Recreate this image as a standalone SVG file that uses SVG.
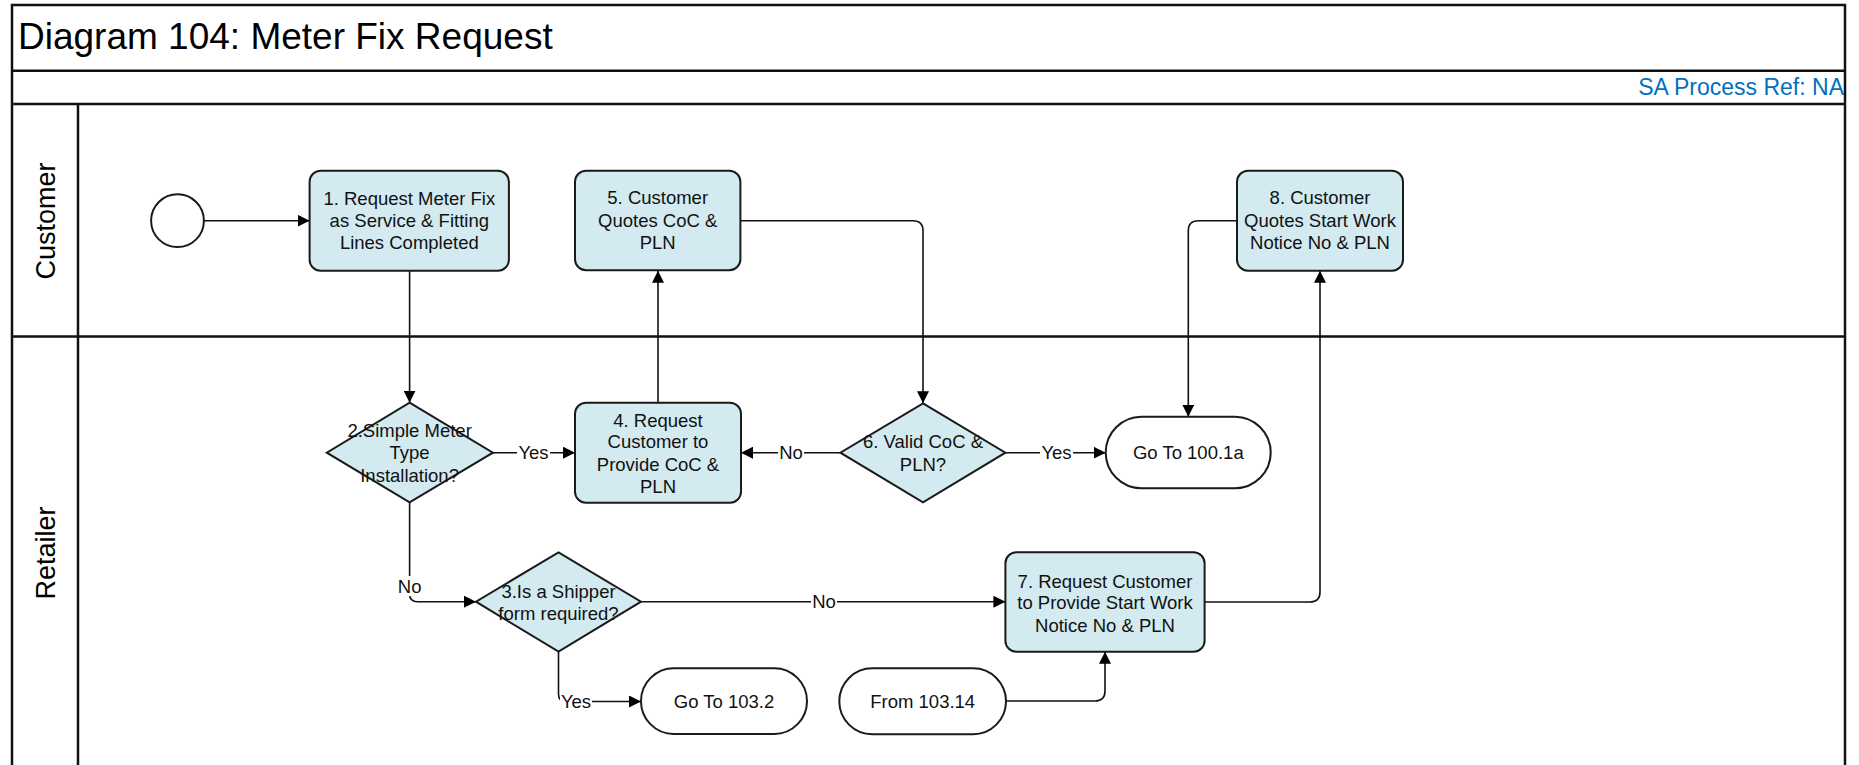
<svg xmlns="http://www.w3.org/2000/svg" width="1859" height="765" viewBox="0 0 1859 765">
<style>
  .frame{fill:none;stroke:#111;stroke-width:2.5}
  .lane{stroke:#111;stroke-width:2.5;fill:none}
  .box{fill:#D3EAF0;stroke:#1a1a1a;stroke-width:2}
  .term{fill:#fff;stroke:#1a1a1a;stroke-width:2}
  .conn{fill:none;stroke:#111;stroke-width:1.6;marker-end:url(#arr)}
  .t{font-family:"Liberation Sans",Arial,sans-serif;font-size:18.5px;fill:#111;text-anchor:middle}
  .lbl{font-family:"Liberation Sans",Arial,sans-serif;font-size:18.5px;fill:#111;text-anchor:middle}
  .lbg{fill:#fff}
  .title{font-family:"Liberation Sans",Arial,sans-serif;font-size:37px;fill:#000}
  .ref{font-family:"Liberation Sans",Arial,sans-serif;font-size:23px;fill:#0070C0;text-anchor:end}
  .lanet{font-family:"Liberation Sans",Arial,sans-serif;font-size:27px;fill:#000;text-anchor:middle}
</style>
<defs>
  <marker id="arr" viewBox="0 0 12 12" refX="12" refY="6" markerWidth="12" markerHeight="12" markerUnits="userSpaceOnUse" orient="auto">
    <path d="M0,0 L12,6 L0,12 z" fill="#000"/>
  </marker>
</defs>
<rect x="0" y="0" width="1859" height="765" fill="#fff"/>

<g id="frame">
  <rect class="frame" x="12" y="5" width="1833" height="780"/>
  <line class="lane" x1="12" y1="70.7" x2="1845" y2="70.7"/>
  <line class="lane" x1="12" y1="104" x2="1845" y2="104"/>
  <line class="lane" x1="78" y1="104" x2="78" y2="770"/>
  <line class="lane" x1="12" y1="336.5" x2="1845" y2="336.5"/>
  <text class="title" x="18" y="49">Diagram 104: Meter Fix Request</text>
  <text class="ref" x="1844" y="95">SA Process Ref: NA</text>
  <text class="lanet" transform="translate(55,221) rotate(-90)">Customer</text>
  <text class="lanet" transform="translate(55,553) rotate(-90)">Retailer</text>
</g>

<g id="connectors">
  <path class="conn" d="M203.8,220.7 H309.6"/>
  <path class="conn" d="M409.6,270.7 V402.7"/>
  <path class="conn" d="M492.9,452.7 H575"/>
  <path class="conn" d="M658,402.7 V270.7"/>
  <path class="conn" d="M740.4,220.7 H913 Q923,220.7 923,230.7 V403.3"/>
  <path class="conn" d="M840.4,452.7 H741"/>
  <path class="conn" d="M1005.4,452.7 H1105.7"/>
  <path class="conn" d="M1237,220.7 H1198.3 Q1188.3,220.7 1188.3,230.7 V416.7"/>
  <path class="conn" d="M409.6,502.3 V594 Q409.6,601.7 417.3,601.7 H476"/>
  <path class="conn" d="M641,601.7 H1005.4"/>
  <path class="conn" d="M558.5,651.7 V694 Q558.5,701.5 566,701.5 H641"/>
  <path class="conn" d="M1006,701 H1095 Q1105,701 1105,691 V651.7"/>
  <path class="conn" d="M1204.6,602 H1310 Q1320,602 1320,592 V270.7"/>
  <rect class="lbg" x="517" y="442" width="33" height="22"/>
  <text class="lbl" x="533.5" y="459.3">Yes</text>
  <rect class="lbg" x="778" y="442" width="26" height="22"/>
  <text class="lbl" x="791" y="459.3">No</text>
  <rect class="lbg" x="1040" y="442" width="33" height="22"/>
  <text class="lbl" x="1056.5" y="459.3">Yes</text>
  <rect class="lbg" x="397" y="576" width="26" height="20"/>
  <text class="lbl" x="409.6" y="592.6">No</text>
  <rect class="lbg" x="811" y="591" width="26" height="22"/>
  <text class="lbl" x="824" y="608.3">No</text>
  <rect class="lbg" x="560" y="691" width="32" height="22"/>
  <text class="lbl" x="576" y="708.3">Yes</text>
</g>

<g id="start">
  <circle cx="177.5" cy="220.7" r="26.4" fill="#fff" stroke="#1a1a1a" stroke-width="2"/>
</g>

<g id="n1">
  <rect class="box" x="309.6" y="170.7" width="199.3" height="100" rx="11"/>
  <text class="t"><tspan x="409.3" y="204.9">1. Request Meter Fix</tspan><tspan x="409.3" y="227.3">as Service &amp; Fitting</tspan><tspan x="409.3" y="249.3">Lines Completed</tspan></text>
</g>

<g id="n2">
  <polygon class="box" points="409.6,402.7 492.9,452.7 409.6,502.3 326.8,452.7"/>
  <text class="t"><tspan x="409.6" y="437.3">2.Simple Meter</tspan><tspan x="409.6" y="459.3">Type</tspan><tspan x="409.6" y="482.3">Installation?</tspan></text>
</g>

<g id="n3">
  <polygon class="box" points="558.5,552.3 641,601.7 558.5,651.7 476,601.7"/>
  <text class="t"><tspan x="558.5" y="598.3">3.Is a Shipper</tspan><tspan x="558.5" y="620">form required?</tspan></text>
</g>

<g id="n4">
  <rect class="box" x="575" y="402.7" width="166" height="100" rx="11"/>
  <text class="t"><tspan x="658" y="426.6">4. Request</tspan><tspan x="658" y="448.4">Customer to</tspan><tspan x="658" y="471">Provide CoC &amp;</tspan><tspan x="658" y="493.3">PLN</tspan></text>
</g>

<g id="n5">
  <rect class="box" x="575" y="170.7" width="165.4" height="99.5" rx="11"/>
  <text class="t"><tspan x="657.7" y="204.3">5. Customer</tspan><tspan x="657.7" y="227.3">Quotes CoC &amp;</tspan><tspan x="657.7" y="249">PLN</tspan></text>
</g>

<g id="n6">
  <polygon class="box" points="923,403.3 1005.4,452.7 923,502.3 840.4,452.7"/>
  <text class="t"><tspan x="923" y="448.3">6. Valid CoC &amp;</tspan><tspan x="923" y="471">PLN?</tspan></text>
</g>

<g id="n7">
  <rect class="box" x="1005.4" y="552.3" width="199.2" height="99.4" rx="11"/>
  <text class="t"><tspan x="1105" y="587.6">7. Request Customer</tspan><tspan x="1105" y="609.3">to Provide Start Work</tspan><tspan x="1105" y="631.6">Notice No &amp; PLN</tspan></text>
</g>

<g id="n8">
  <rect class="box" x="1237" y="170.7" width="166" height="100" rx="11"/>
  <text class="t"><tspan x="1320" y="204.3">8. Customer</tspan><tspan x="1320" y="227.3">Quotes Start Work</tspan><tspan x="1320" y="249">Notice No &amp; PLN</tspan></text>
</g>

<g id="t100">
  <rect class="term" x="1105.7" y="416.7" width="165" height="71.6" rx="35.8"/>
  <text class="t" x="1188.3" y="459.3">Go To 100.1a</text>
</g>

<g id="t103_2">
  <rect class="term" x="641" y="668.3" width="166" height="65.7" rx="32.8"/>
  <text class="t" x="724" y="707.7">Go To 103.2</text>
</g>

<g id="t103_14">
  <rect class="term" x="839.3" y="668.3" width="166.7" height="66" rx="33"/>
  <text class="t" x="922.7" y="707.7">From 103.14</text>
</g>
</svg>
